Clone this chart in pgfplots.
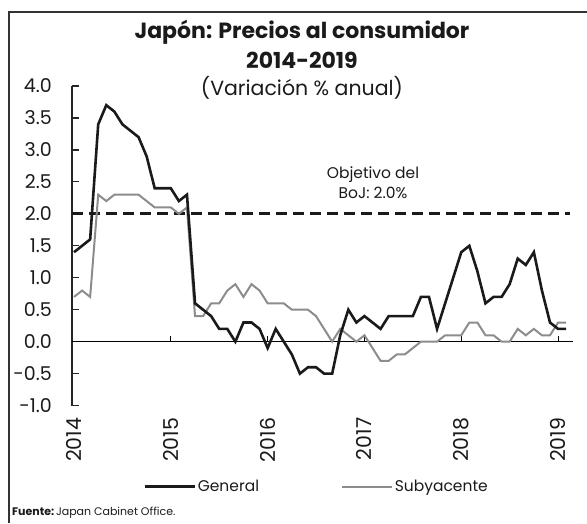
\documentclass[border=0pt]{standalone}
\usepackage{pgfplots}
\usepackage{pgfplotstable}
\pgfplotsset{compat=1.18}
\usepackage{fontspec}
\setmainfont{Poppins}
\definecolor{lgray}{HTML}{8C8C8C}
\definecolor{dk}{HTML}{1A1A1A}

\pgfplotstableread{
m g s
0 1.4 0.7
1 1.5 0.8
2 1.6 0.7
3 3.4 2.3
4 3.7 2.2
5 3.6 2.3
6 3.4 2.3
7 3.3 2.3
8 3.2 2.3
9 2.9 2.2
10 2.4 2.1
11 2.4 2.1
12 2.4 2.1
13 2.2 2.0
14 2.3 2.1
15 0.6 0.4
16 0.5 0.4
17 0.4 0.6
18 0.2 0.6
19 0.2 0.8
20 0.0 0.9
21 0.3 0.7
22 0.3 0.9
23 0.2 0.8
24 -0.1 0.6
25 0.2 0.6
26 0.0 0.6
27 -0.2 0.5
28 -0.5 0.5
29 -0.4 0.5
30 -0.4 0.4
31 -0.5 0.2
32 -0.5 0.0
33 0.1 0.2
34 0.5 0.1
35 0.3 0.0
36 0.4 0.1
37 0.3 -0.1
38 0.2 -0.3
39 0.4 -0.3
40 0.4 -0.2
41 0.4 -0.2
42 0.4 -0.1
43 0.7 0.0
44 0.7 0.0
45 0.2 0.0
46 0.6 0.1
47 1.0 0.1
48 1.4 0.1
49 1.5 0.3
50 1.1 0.3
51 0.6 0.1
52 0.7 0.1
53 0.7 0.0
54 0.9 0.0
55 1.3 0.2
56 1.2 0.1
57 1.4 0.2
58 0.8 0.1
59 0.3 0.1
60 0.2 0.3
61 0.2 0.3
}\datatable

\begin{document}
\begin{tikzpicture}
\useasboundingbox (0,0) rectangle (587pt,523pt);
\draw[line width=1.2pt, black!80] (9pt,0pt) -- (9pt,511pt) -- (587pt,511pt);
\node[font=\fontsize{22}{25}\selectfont\bfseries, text=dk] at (302pt,491pt) {Japón: Precios al consumidor};
\node[font=\fontsize{22}{25}\selectfont\bfseries, text=dk] at (302pt,463pt) {2014-2019};
\node[font=\fontsize{20.5}{24}\selectfont, text=dk] at (302pt,435pt) {(Variación \% anual)};
\node[font=\fontsize{15.5}{18}\selectfont, text=dk] at (373pt,348pt) {Objetivo del};
\node[font=\fontsize{15.5}{18}\selectfont, text=dk] at (373pt,330pt) {BoJ: 2.0\%};
\node[font=\fontsize{11}{13}\selectfont, text=dk, anchor=west, inner sep=0pt] at (12pt,10pt) {\textbf{Fuente:}\,Japan Cabinet Office.};
\begin{axis}[
  at={(72pt,117.4pt)}, anchor=south west,
  scale only axis, width=501pt, height=319.6pt,
  xmin=-0.25, xmax=61.85, ymin=-1, ymax=4,
  axis x line=bottom, axis y line=left,
  axis line style={-},
  x axis line style={draw=none},
  y axis line style={line width=1.2pt, black!85},
  xtick={0,12,24,36,48,60},
  xticklabels={2014,2015,2016,2017,2018,2019},
  xtick style={draw=none},
  xticklabel style={font=\fontsize{20.5}{24}\selectfont, text=dk, rotate=90, anchor=east, inner sep=0pt},
  xticklabel shift=12pt,
  ytick={-1,-0.5,0,0.5,1,1.5,2,2.5,3,3.5,4},
  yticklabels={-1.0,-0.5,0.0,0.5,1.0,1.5,2.0,2.5,3.0,3.5,4.0},
  yticklabel style={font=\fontsize{19}{22}\selectfont, text=dk, anchor=east, inner sep=0pt},
  yticklabel shift=20pt,
  tick align=inside,
  ytick style={line width=1.2pt, black!85},
  major tick length=7pt,
  clip=false,
  legend columns=2,
  legend style={draw=none, fill=none, at={(0.488,-0.2535)}, anchor=center,
    font=\fontsize{15.5}{18}\selectfont, text=dk,
    /tikz/every even column/.append style={column sep=80pt}},
  legend image code/.code={\draw[#1] (0pt,0pt) -- (50pt,0pt);},
]
\addplot[black, line width=1.3pt, forget plot] coordinates {(-0.25,0) (61.85,0)};
\addplot[ycomb, black, line width=0.8pt, forget plot] coordinates {(12,0.09) (24,0.09) (36,0.09) (48,0.09) (60,0.09)};
\addplot[dk, line width=3pt, dash pattern=on 11pt off 6pt, forget plot] coordinates {(-0.25,2) (61.5,2)};
\addplot[lgray, line width=2pt, forget plot] table[x=m, y=s] {\datatable};
\addlegendimage{dk, line width=2.6pt}
\addlegendentry{General}
\addlegendimage{lgray, line width=1.8pt}
\addlegendentry{Subyacente}
\addplot[dk, line width=2.6pt, forget plot] table[x=m, y=g] {\datatable};
\end{axis}
\end{tikzpicture}
\end{document}
